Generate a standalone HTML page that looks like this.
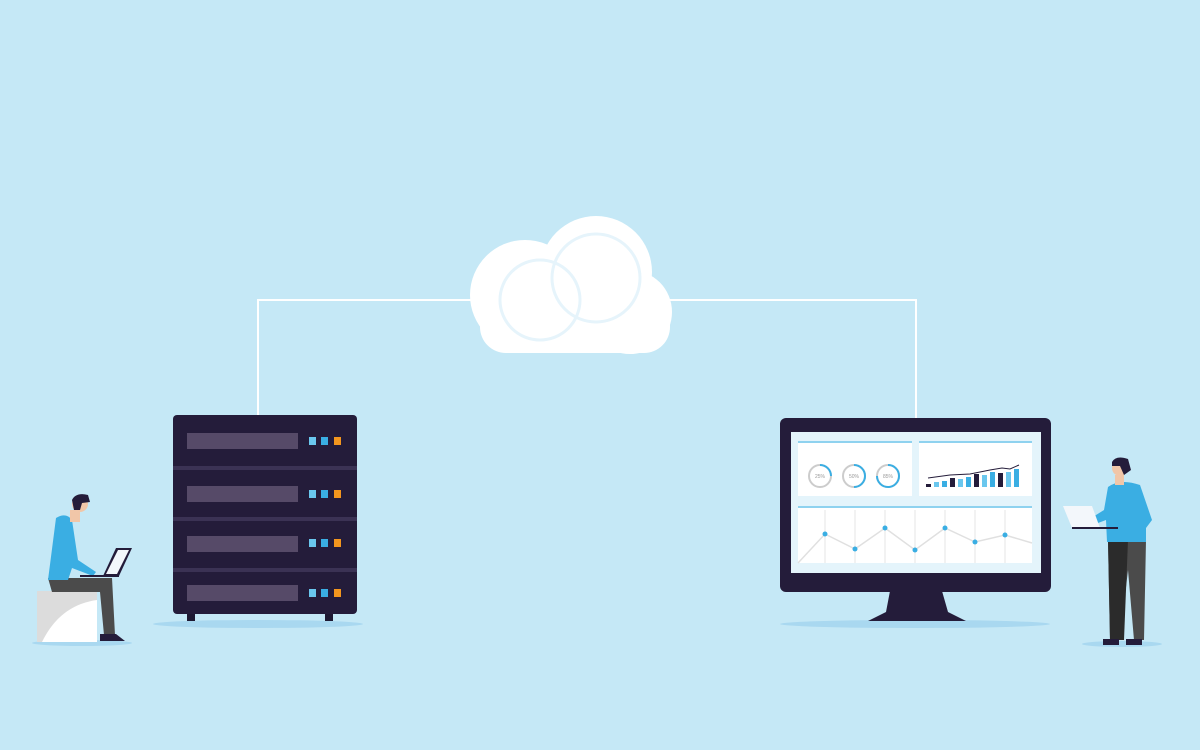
<!DOCTYPE html>
<html><head><meta charset="utf-8"><style>
html,body{margin:0;padding:0;background:#c5e8f6;}
svg{display:block}
</style></head><body>
<svg width="1200" height="750" viewBox="0 0 1200 750" xmlns="http://www.w3.org/2000/svg" font-family="Liberation Sans, sans-serif">
<rect width="1200" height="750" fill="#c5e8f6"/>
<!-- connector lines -->
<polyline points="258,415 258,300 480,300" fill="none" stroke="#fff" stroke-width="2"/>
<polyline points="660,300 916,300 916,418" fill="none" stroke="#fff" stroke-width="2"/>
<!-- cloud -->
<g fill="#fff">
<circle cx="596" cy="272" r="56"/>
<circle cx="525" cy="295" r="55"/>
<circle cx="630" cy="312" r="42"/>
<rect x="480" y="300" width="190" height="53" rx="26"/>
</g>
<g fill="none" stroke="#e6f4fb" stroke-width="3">
<circle cx="596" cy="278" r="44"/>
<circle cx="540" cy="300" r="40"/>
</g>
<!-- shadows -->
<ellipse cx="258" cy="624" rx="105" ry="4" fill="#a9d8f0"/>
<ellipse cx="915" cy="624" rx="135" ry="4" fill="#a9d8f0"/>
<ellipse cx="82" cy="643" rx="50" ry="3" fill="#a9d8f0"/>
<ellipse cx="1122" cy="644" rx="40" ry="3" fill="#a9d8f0"/>
<!-- server -->
<rect x="187" y="612" width="8" height="9" fill="#1e1933"/>
<rect x="325" y="612" width="8" height="9" fill="#1e1933"/>
<rect x="173" y="415" width="184" height="199" rx="4" fill="#241c3a"/>
<g fill="#3b3254"><rect x="173" y="466" width="184" height="4"/><rect x="173" y="517" width="184" height="4"/><rect x="173" y="568" width="184" height="4"/></g>
<g>
<rect x="187" y="433" width="111" height="16" fill="#564a68"/>
<rect x="187" y="486" width="111" height="16" fill="#564a68"/>
<rect x="187" y="536" width="111" height="16" fill="#564a68"/>
<rect x="187" y="585" width="111" height="16" fill="#564a68"/>
</g>
<g>
<rect x="309" y="437" width="7" height="8" fill="#6ac7ee"/><rect x="321" y="437" width="7" height="8" fill="#3aaee3"/><rect x="334" y="437" width="7" height="8" fill="#f3961e"/>
<rect x="309" y="490" width="7" height="8" fill="#6ac7ee"/><rect x="321" y="490" width="7" height="8" fill="#3aaee3"/><rect x="334" y="490" width="7" height="8" fill="#f3961e"/>
<rect x="309" y="539" width="7" height="8" fill="#6ac7ee"/><rect x="321" y="539" width="7" height="8" fill="#3aaee3"/><rect x="334" y="539" width="7" height="8" fill="#f3961e"/>
<rect x="309" y="589" width="7" height="8" fill="#6ac7ee"/><rect x="321" y="589" width="7" height="8" fill="#3aaee3"/><rect x="334" y="589" width="7" height="8" fill="#f3961e"/>
</g>
<!-- monitor -->
<polygon points="890,591 942,591 948,612 966,621 868,621 886,612" fill="#241c3a"/>
<rect x="780" y="418" width="271" height="174" rx="6" fill="#241c3a"/>
<rect x="791" y="432" width="250" height="141" fill="#e4f4fb"/>
<rect x="798" y="441" width="114" height="55" fill="#fff"/>
<rect x="798" y="441" width="114" height="2" fill="#8fd2ef"/>
<rect x="919" y="441" width="113" height="55" fill="#fff"/>
<rect x="919" y="441" width="113" height="2" fill="#8fd2ef"/>
<rect x="798" y="506" width="234" height="57" fill="#fff"/>
<rect x="798" y="506" width="234" height="2" fill="#8fd2ef"/>
<g fill="none" stroke-width="2">
<circle cx="820" cy="476" r="11" stroke="#ccc"/>
<circle cx="854" cy="476" r="11" stroke="#ccc"/>
<circle cx="888" cy="476" r="11" stroke="#ccc"/>
<path d="M820,465 A11,11 0 0 1 831,476" stroke="#3aaee3"/>
<path d="M854,465 A11,11 0 0 1 854,487" stroke="#3aaee3"/>
<path d="M888,465 A11,11 0 1 1 877,476" stroke="#3aaee3"/>
</g>
<g font-size="5" fill="#999" text-anchor="middle"><text x="820" y="478">25%</text><text x="854" y="478">50%</text><text x="888" y="478">85%</text></g>
<g>
<rect x="926" y="484" width="5" height="3" fill="#241c3a"/><rect x="934" y="482" width="5" height="5" fill="#6ac7ee"/><rect x="942" y="481" width="5" height="6" fill="#3aaee3"/><rect x="950" y="478" width="5" height="9" fill="#241c3a"/><rect x="958" y="479" width="5" height="8" fill="#6ac7ee"/><rect x="966" y="477" width="5" height="10" fill="#3aaee3"/><rect x="974" y="474" width="5" height="13" fill="#241c3a"/><rect x="982" y="475" width="5" height="12" fill="#6ac7ee"/><rect x="990" y="472" width="5" height="15" fill="#3aaee3"/><rect x="998" y="473" width="5" height="14" fill="#241c3a"/><rect x="1006" y="472" width="5" height="15" fill="#6ac7ee"/><rect x="1014" y="469" width="5" height="18" fill="#3aaee3"/>
<polyline points="928,478 950,475 970,474 990,470 1002,468 1010,469 1019,465" fill="none" stroke="#241c3a" stroke-width="1"/>
</g>
<g stroke="#e4e4e4" stroke-width="1"><line x1="825" y1="510" x2="825" y2="563"/><line x1="855" y1="510" x2="855" y2="563"/><line x1="885" y1="510" x2="885" y2="563"/><line x1="915" y1="510" x2="915" y2="563"/><line x1="945" y1="510" x2="945" y2="563"/><line x1="975" y1="510" x2="975" y2="563"/><line x1="1005" y1="510" x2="1005" y2="563"/></g>
<polyline points="798,563 825,534 855,549 885,528 915,550 945,528 975,542 1005,535 1032,543" fill="none" stroke="#e0e0e0" stroke-width="1.5"/>
<g fill="#3aaee3"><circle cx="825" cy="534" r="2.5"/><circle cx="855" cy="549" r="2.5"/><circle cx="885" cy="528" r="2.5"/><circle cx="915" cy="550" r="2.5"/><circle cx="945" cy="528" r="2.5"/><circle cx="975" cy="542" r="2.5"/><circle cx="1005" cy="535" r="2.5"/></g>
<!-- seated person -->
<rect x="37" y="591" width="60" height="51" fill="#fff"/>
<path d="M37,591 L97,591 L97,600 Q60,605 42,642 L37,642Z" fill="#dcdcdc"/>
<path d="M48,578 L112,578 L115,635 L104,635 L100,592 L52,592Z" fill="#4b4b4b"/>
<path d="M100,634 L116,634 L125,641 L100,641Z" fill="#241c3a"/>
<path d="M56,518 Q66,512 72,520 L78,560 L96,572 L93,576 L72,568 L68,580 L48,580 Z" fill="#3aaee3"/>
<rect x="70" y="510" width="10" height="12" fill="#f1c6a8"/>
<circle cx="80" cy="504" r="8" fill="#f1c6a8"/>
<path d="M72,500 Q76,492 88,495 L90,502 L82,503 L80,510 L74,510Z" fill="#241c3a"/>
<polygon points="103,576 116,548 132,548 119,576" fill="#241c3a"/>
<polygon points="106,574 118,550 129,550 117,574" fill="#f3f7fb"/>
<rect x="80" y="575" width="39" height="2" fill="#241c3a"/>
<!-- standing person -->
<path d="M1108,540 L1146,540 L1144,640 L1134,640 L1128,570 L1120,640 L1110,640Z" fill="#4b4b4b"/>
<path d="M1108,540 L1128,540 L1124,640 L1110,640Z" fill="#2b2b2b"/>
<path d="M1103,639 L1119,639 L1119,645 L1103,645Z M1126,639 L1142,639 L1142,645 L1126,645Z" fill="#241c3a"/>
<path d="M1108,487 Q1120,478 1140,485 L1152,520 L1146,528 L1146,542 L1107,542 L1106,520 L1090,526 L1088,520 L1104,510Z" fill="#3aaee3"/>
<rect x="1115" y="475" width="9" height="10" fill="#f1c6a8"/>
<circle cx="1120" cy="468" r="8" fill="#f1c6a8"/>
<path d="M1112,462 Q1116,455 1128,459 L1131,470 L1124,475 L1120,466 L1112,466Z" fill="#241c3a"/>
<polygon points="1063,506 1092,506 1100,528 1072,528" fill="#f3f7fb"/>
<rect x="1072" y="527" width="46" height="2" fill="#241c3a"/>
</svg>
</body></html>
